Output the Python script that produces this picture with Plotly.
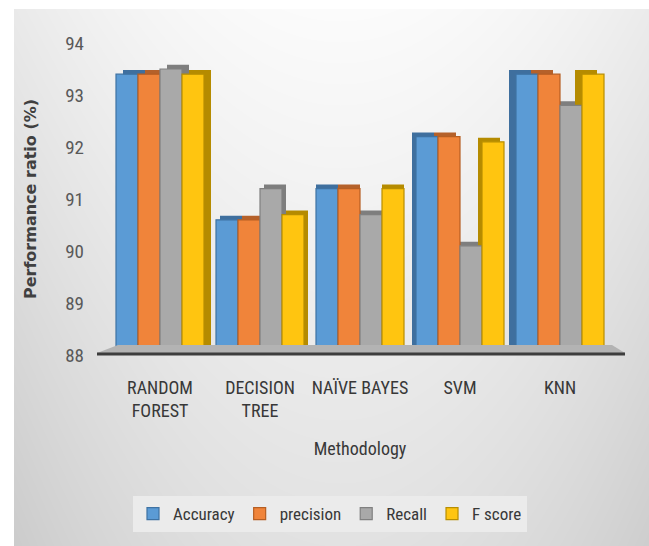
import base64
import struct
import zlib

import numpy as np
import plotly.graph_objects as go

# ---------------- data ----------------
categories = ["RANDOM<br>FOREST", "DECISION<br>TREE", "NAÏVE BAYES", "SVM", "KNN"]
accuracy = [93.4, 90.6, 91.2, 92.2, 93.4]
precision = [93.4, 90.6, 91.2, 92.2, 93.4]
recall = [93.5, 91.2, 90.7, 90.1, 92.8]
f_score = [93.4, 90.7, 91.2, 92.1, 93.4]
series_names = ["Accuracy", "precision", "Recall", "F score"]
y_ticks = [88, 89, 90, 91, 92, 93, 94]

# ---------------- geometry helpers ----------------
W, H = 649, 546
L, R, T, B = 110, 39, 43, 191
PW, PH = W - L - R, H - T - B


def xp(px):
    return (px - L) / PW


def yp(py):
    return (H - B - py) / PH


# ---------------- background gradient image ----------------
def make_png(arr):
    h, w, _ = arr.shape
    raw = b"".join(b"\x00" + arr[i].tobytes() for i in range(h))

    def chunk(tag, data):
        c = struct.pack(">I", len(data)) + tag + data
        return c + struct.pack(">I", zlib.crc32(tag + data) & 0xFFFFFFFF)

    ihdr = struct.pack(">IIBBBBB", w, h, 8, 2, 0, 0, 0)
    return (b"\x89PNG\r\n\x1a\n" + chunk(b"IHDR", ihdr)
            + chunk(b"IDAT", zlib.compress(raw, 9)) + chunk(b"IEND", b""))


yy, xx = np.mgrid[0:H, 0:W].astype(float)
dx = ((xx - 340) / 310) ** 2
yn = yy / H
v = 252 - 16 * dx - 26 * yn - 4 * dx * yn
v = np.clip(v, 0, 255)
v[(xx < 14) | (yy < 9)] = 255
img = np.repeat(v[:, :, None], 3, axis=2).astype(np.uint8)
bg_src = "data:image/png;base64," + base64.b64encode(make_png(img)).decode()

# ---------------- figure ----------------
fills = ["#5B9BD5", "#F0843A", "#A9A9A9", "#FFC510"]
edges = ["#3E72A3", "#B65E22", "#808080", "#B88E00"]
depth_fills = ["#3F6F9E", "#B5612A", "#7E7E7E", "#B58B00"]
values = [accuracy, precision, recall, f_score]

bar_w = 0.22
offsets = [-0.44, -0.22, 0.0, 0.22]
# perspective of the 3-D look: side faces point toward the centre of the chart
depth_shift = [0.07, 0.04, 0.0, -0.04, -0.07]
depth_rise = 0.08

narrow = "Roboto Condensed, DejaVu Sans Condensed, sans-serif"
txt = "#383838"

fig = go.Figure()
# depth (side/top faces) drawn first, behind the front faces
for vals, off, dc in zip(values, offsets, depth_fills):
    fig.add_trace(go.Bar(
        x=categories, y=[v_ + depth_rise for v_ in vals],
        width=bar_w, offset=[off + s for s in depth_shift],
        marker=dict(color=dc, line=dict(width=0)),
        showlegend=False, hoverinfo="skip",
    ))
for name, vals, off, fc, ec in zip(series_names, values, offsets, fills, edges):
    fig.add_trace(go.Bar(
        x=categories, y=vals, name=name, width=bar_w, offset=off,
        marker=dict(color=fc, line=dict(color=ec, width=1.2)),
    ))

fig.update_layout(
    width=W, height=H, autosize=False,
    margin=dict(l=L, r=R, t=T, b=B, pad=0),
    paper_bgcolor="white",
    plot_bgcolor="rgba(0,0,0,0)",
    barmode="overlay",
    font=dict(family=narrow, color=txt),
    xaxis=dict(
        showgrid=False, showline=False, zeroline=False, ticks="",
        tickfont=dict(family=narrow, size=18, color=txt),
        ticklabelstandoff=20,
        title=dict(text="Methodology", font=dict(family=narrow, size=18, color=txt),
                   standoff=21),
    ),
    yaxis=dict(
        range=[88, 94], tickvals=y_ticks, showgrid=False, zeroline=False,
        showline=False, ticks="",
        tickfont=dict(family=narrow, size=19, color="#595959"),
        ticklabelstandoff=25,
        title=dict(text="Performance ratio (%)",
                   font=dict(family="DejaVu Sans, Verdana, sans-serif", size=16,
                             color="#404040", weight="bold"),
                   standoff=24),
    ),
    yaxis2=dict(
        overlaying="y", anchor="x", side="left",
        range=[87.587, 94.37], tickvals=y_ticks, showticklabels=False,
        showgrid=True, gridcolor="#d6d6d6", gridwidth=1.5, zeroline=False,
        showline=False, ticks="",
    ),
    legend=dict(
        orientation="h", x=xp(330), xanchor="center", y=yp(514), yanchor="middle",
        bgcolor="#ebebeb", font=dict(family=narrow, size=17, color=txt),
        itemwidth=30, traceorder="normal",
    ),
    images=[dict(
        source=bg_src, xref="paper", yref="paper",
        x=xp(0), y=yp(0), sizex=W / PW, sizey=H / PH,
        xanchor="left", yanchor="top", sizing="stretch", layer="below",
    )],
    shapes=[
        dict(type="path", xref="paper", yref="paper",
             path=f"M {xp(97)} {yp(353)} L {xp(118)} {yp(345)} L {xp(612)} {yp(345)} "
                  f"L {xp(625)} {yp(353)} Z",
             fillcolor="#b3b3b3", line=dict(width=0), layer="above"),
        dict(type="line", xref="paper", yref="paper",
             x0=xp(97), x1=xp(625), y0=yp(354), y1=yp(354),
             line=dict(color="#3d3d3d", width=3), layer="above"),
    ],
)

fig.write_html("out.html")
